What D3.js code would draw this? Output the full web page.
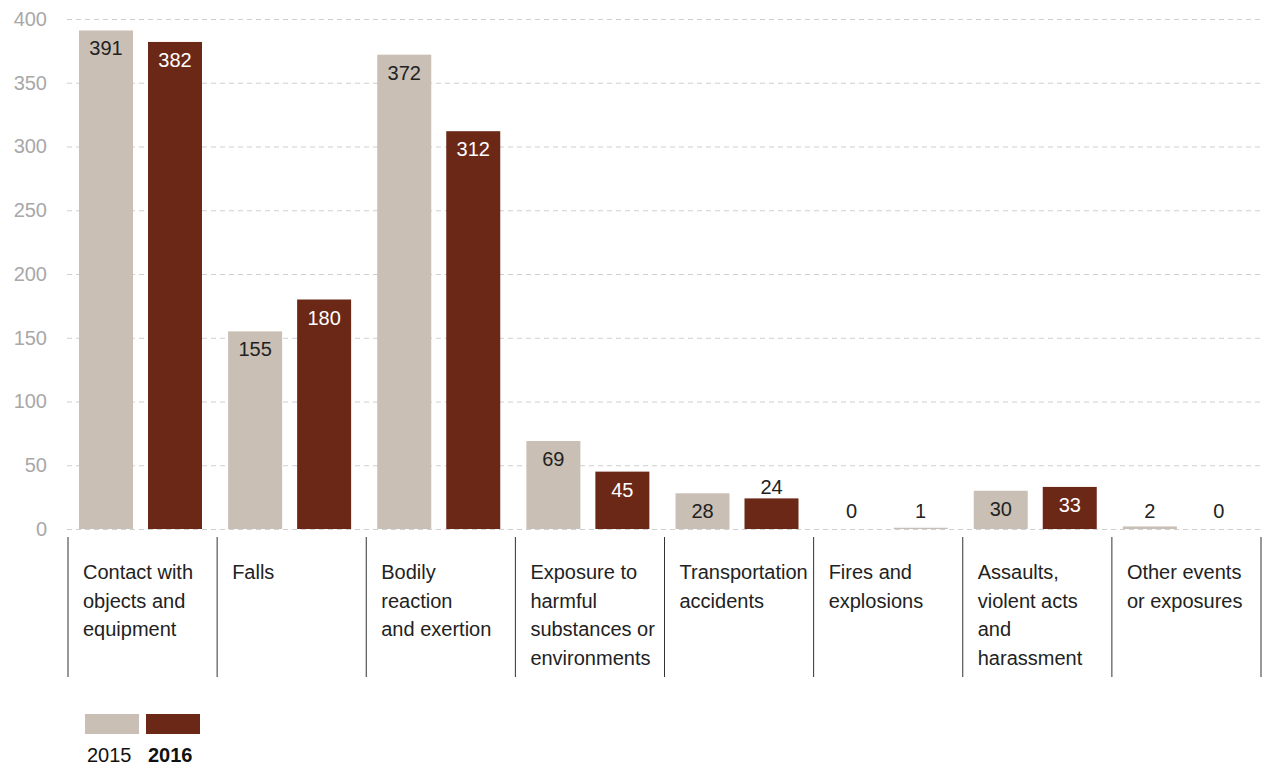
<!DOCTYPE html>
<html>
<head>
<meta charset="utf-8">
<script src="https://cdn.jsdelivr.net/npm/d3@7"></script>
<style>
  html, body { margin: 0; padding: 0; background: #fff; }
  svg { display: block; font-family: "Liberation Sans", Arial, sans-serif; }
</style>
</head>
<body>
<svg id="chart" width="1263" height="766"></svg>
<script>
// Event categories (label lines) and counts per year
const categories = [
  ["Contact with", "objects and", "equipment"],
  ["Falls"],
  ["Bodily", "reaction", "and exertion"],
  ["Exposure to", "harmful", "substances or", "environments"],
  ["Transportation", "accidents"],
  ["Fires and", "explosions"],
  ["Assaults,", "violent acts", "and", "harassment"],
  ["Other events", "or exposures"]
];
const values2015 = [391, 155, 372, 69, 28, 0, 30, 2];
const values2016 = [382, 180, 312, 45, 24, 1, 33, 0];
const years = ["2015", "2016"];
const yTicks = [0, 50, 100, 150, 200, 250, 300, 350, 400];

const colors = { "2015": "#c9bfb4", "2016": "#6b2817" };
const labelColors = { "2015": "#222", "2016": "#fff" };

const svg = d3.select("#chart");
const plot = { left: 68, right: 1261, top: 19, bottom: 529 };

const idx = d3.range(categories.length);
const x = d3.scaleBand().domain(idx).range([plot.left, plot.right]);
const y = d3.scaleLinear().domain([0, 400]).range([plot.bottom, plot.top]);

// Dashed gridlines and y tick labels
const yAxis = d3.axisLeft(y).tickValues(yTicks).tickSize(0).tickPadding(0);
const gy = svg.append("g").attr("transform", `translate(${plot.left},0)`).call(yAxis);
gy.select(".domain").remove();
gy.selectAll(".tick line")
  .attr("x1", -1).attr("x2", 1263 - plot.left)
  .attr("stroke", "#cfcfcf").attr("stroke-dasharray", "5,4").attr("stroke-width", 1);
gy.selectAll(".tick text")
  .attr("x", -21).attr("fill", "#a8a8a8")
  .style("font-size", "20px").style("font-family", "Liberation Sans, Arial, sans-serif");

// Bars: two per category; hairline bars (tiny counts) use the light tone
const barW = 54;
const offsets = { "2015": 11, "2016": 80 };
const rows = [];
idx.forEach(i => {
  rows.push({ i, year: "2015", v: values2015[i] });
  rows.push({ i, year: "2016", v: values2016[i] });
});

const bars = svg.append("g");
bars.selectAll("rect").data(rows).join("rect")
  .attr("x", d => x(d.i) + offsets[d.year])
  .attr("width", barW)
  .attr("y", d => y(d.v))
  .attr("height", d => y(0) - y(d.v))
  .attr("fill", d => d.v <= 2 ? colors["2015"] : colors[d.year]);

// Value labels: inside the bar top when it fits, otherwise above
bars.selectAll("text").data(rows).join("text")
  .attr("x", d => x(d.i) + offsets[d.year] + barW / 2)
  .attr("y", d => d.v >= 25 ? y(d.v) + 18 : Math.min(y(d.v) - 11, y(0) - 18))
  .attr("dy", "0.35em")
  .attr("text-anchor", "middle")
  .attr("fill", d => d.v >= 25 ? labelColors[d.year] : "#222")
  .style("font-size", "20px")
  .text(d => d.v);

// Category separators and labels
const cat = svg.append("g");
const sepEdges = idx.map(i => x(i)).concat([plot.right]);
cat.selectAll("line").data(sepEdges).join("line")
  .attr("x1", d => d).attr("x2", d => d)
  .attr("y1", 537).attr("y2", 677)
  .attr("stroke", "#333").attr("stroke-width", 1);

const catText = cat.selectAll("text.cat").data(idx).join("text")
  .attr("class", "cat")
  .attr("x", i => x(i) + 15)
  .attr("y", 579)
  .attr("fill", "#222")
  .style("font-size", "20px");
catText.selectAll("tspan").data(i => categories[i].map(t => ({ t, x: x(i) + 15 }))).join("tspan")
  .attr("x", d => d.x)
  .attr("dy", (d, k) => k === 0 ? 0 : 28.7)
  .text(d => d.t);

// Legend
const legend = svg.append("g");
const legendX = { "2015": 85, "2016": 146 };
legend.selectAll("rect").data(years).join("rect")
  .attr("x", d => legendX[d]).attr("y", 714)
  .attr("width", 54).attr("height", 20)
  .attr("fill", d => colors[d]);
legend.selectAll("text").data(years).join("text")
  .attr("x", d => legendX[d] + 2).attr("y", 762)
  .attr("fill", "#111")
  .style("font-size", "20px")
  .style("font-weight", d => d === "2016" ? "bold" : "normal")
  .text(d => d);
</script>
</body>
</html>
